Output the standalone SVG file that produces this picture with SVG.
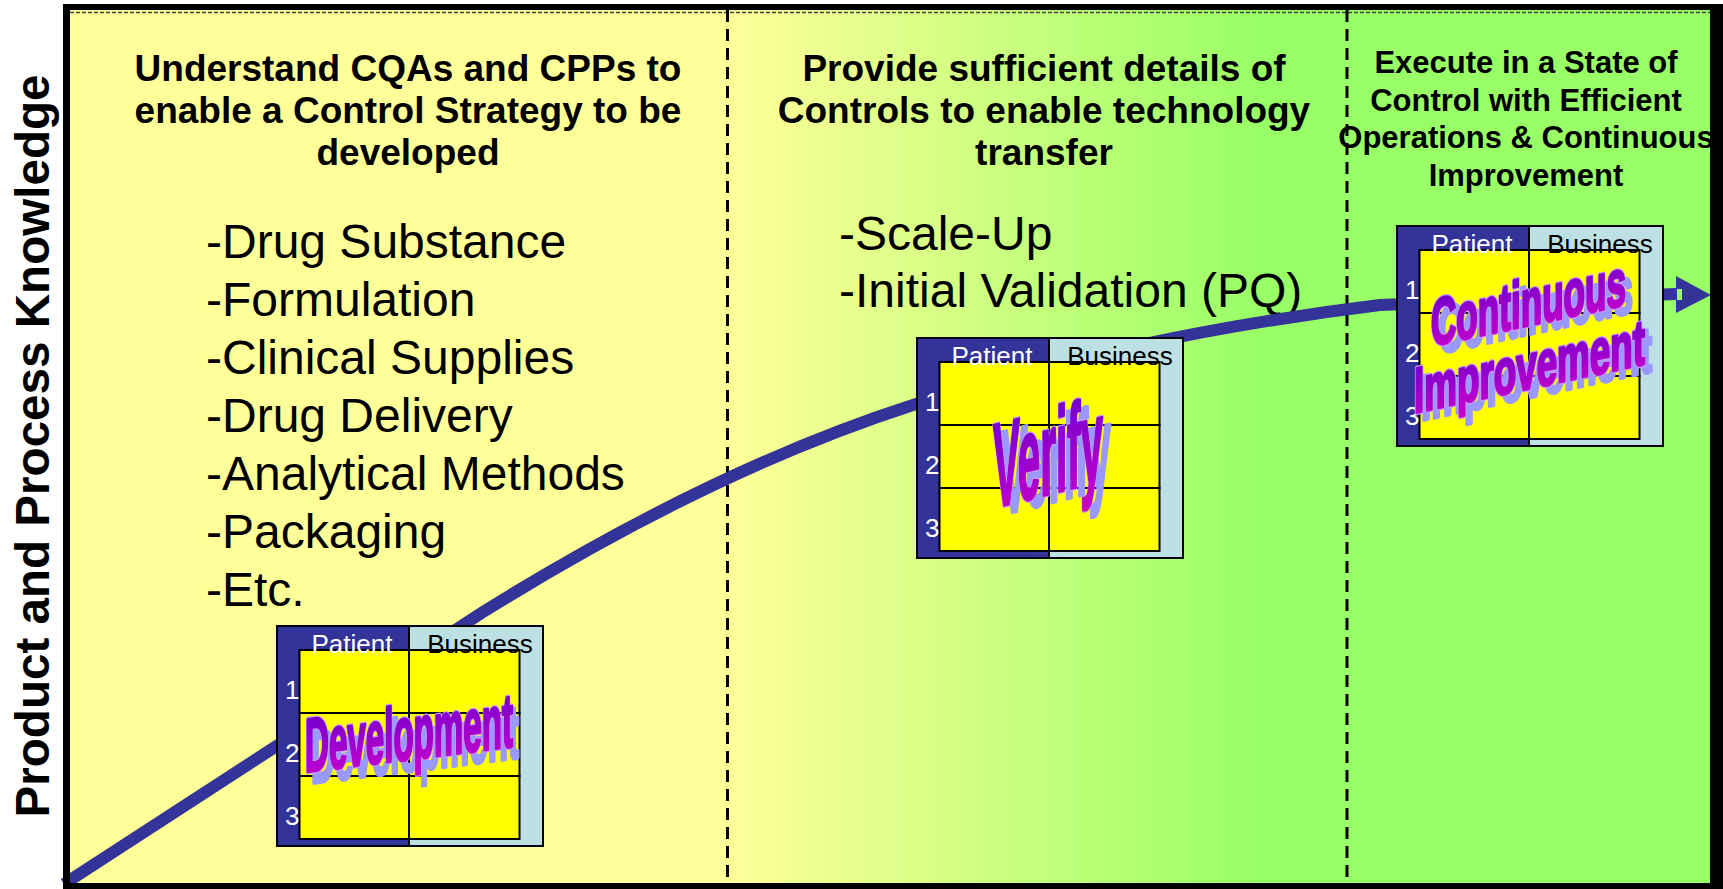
<svg xmlns="http://www.w3.org/2000/svg" width="1723" height="889" viewBox="0 0 1723 889">
<style>
.title{font-family:"Liberation Sans",Arial,sans-serif;font-weight:bold;font-size:37px;text-anchor:middle;fill:#000}
.t3{font-size:31px}
.list{font-family:"Liberation Sans",Arial,sans-serif;font-size:48px;fill:#000}
.axis{font-family:"Liberation Sans",Arial,sans-serif;font-weight:bold;font-size:48px;text-anchor:middle;fill:#000}
.mxd{fill:#333399;stroke:#000;stroke-width:2}
.mxl{fill:#BCE0E4;stroke:#000;stroke-width:2}
.mxc{fill:#FFFF00;stroke:#000;stroke-width:2}
.mxw{font-family:"Liberation Sans",Arial,sans-serif;font-size:26px;fill:#fff}
.mxb{font-family:"Liberation Sans",Arial,sans-serif;font-size:26px;fill:#000}
.mid{text-anchor:middle}
.wa{font-family:"Liberation Sans",Arial,sans-serif;font-weight:bold;fill:url(#waGrad);stroke:url(#waGrad);stroke-width:3;stroke-linejoin:round}
.wao{font-family:"Liberation Sans",Arial,sans-serif;font-weight:bold;fill:none;stroke:#CC99FF;stroke-width:5.5;stroke-linejoin:round}
.wash{font-family:"Liberation Sans",Arial,sans-serif;font-weight:bold;fill:#9999FF;stroke:#9999FF;stroke-width:4;stroke-linejoin:round}
.divider{stroke:#000;stroke-width:3;stroke-dasharray:12 7;fill:none}
.curve{stroke:#333399;stroke-width:12;fill:none}
</style>
<defs>
<linearGradient id="bgGrad" gradientUnits="userSpaceOnUse" x1="727" y1="0" x2="1347" y2="0">
<stop offset="0" stop-color="#FFFF99"/>
<stop offset="0.86" stop-color="#99FF66"/>
<stop offset="1" stop-color="#99FF66"/>
</linearGradient>
<linearGradient id="waGrad" x1="0" y1="0" x2="0" y2="1">
<stop offset="0" stop-color="#6600CC"/>
<stop offset="1" stop-color="#CC00CC"/>
</linearGradient>
</defs>

<g id="background">
<rect x="70" y="10" width="658" height="873" fill="#FFFF99"/>
<rect x="727.5" y="10" width="620" height="873" fill="url(#bgGrad)"/>
<rect x="1347" y="10" width="363" height="873" fill="#99FF66"/>
<line x1="70" y1="12.5" x2="1710" y2="12.5" stroke="#444" stroke-width="1.5" stroke-dasharray="4 2"/>
<line class="divider" x1="727.5" y1="10" x2="727.5" y2="883"/>
<line class="divider" x1="1347" y1="10" x2="1347" y2="883"/>
</g>

<g id="title-1">
<text class="title" x="408" y="80.5">Understand CQAs and CPPs to</text>
<text class="title" x="408" y="122.5">enable a Control Strategy to be</text>
<text class="title" x="408" y="164.5">developed</text>
</g>
<g id="list-1">
<text class="list" x="206" y="258">-Drug Substance</text>
<text class="list" x="206" y="316">-Formulation</text>
<text class="list" x="206" y="374">-Clinical Supplies</text>
<text class="list" x="206" y="432">-Drug Delivery</text>
<text class="list" x="206" y="490">-Analytical Methods</text>
<text class="list" x="206" y="548">-Packaging</text>
<text class="list" x="206" y="606">-Etc.</text>
</g>

<g id="title-2">
<text class="title" x="1044" y="80.5">Provide sufficient details of</text>
<text class="title" x="1044" y="122.5">Controls to enable technology</text>
<text class="title" x="1044" y="164.5">transfer</text>
</g>
<g id="list-2">
<text class="list" x="839" y="250">-Scale-Up</text>
<text class="list" x="839" y="307">-Initial Validation (PQ)</text>
</g>

<g id="title-3">
<text class="title t3" x="1526" y="73">Execute in a State of</text>
<text class="title t3" x="1526" y="110.5">Control with Efficient</text>
<text class="title t3" x="1526" y="148">Operations &amp; Continuous</text>
<text class="title t3" x="1526" y="185.5">Improvement</text>
</g>

<g id="connectors">
<path class="curve" d="M 64,884 L 483,612 C 626,523 770,451 913,405 C 1069,355 1224,324 1380,305 L 1676,294"/>
<polygon points="1676,276 1711,295 1676,313" fill="#333399"/>
<rect x="1677" y="289" width="5" height="11" fill="#99FF66"/>
</g>

<g id="node-development">
<rect class="mxd" x="277" y="626" width="132" height="220"/>
<rect class="mxl" x="409" y="626" width="134" height="220"/>
<rect class="mxc" x="299.5" y="650" width="109.5" height="63"/>
<rect class="mxc" x="409" y="650" width="110.5" height="63"/>
<rect class="mxc" x="299.5" y="713" width="109.5" height="63"/>
<rect class="mxc" x="409" y="713" width="110.5" height="63"/>
<rect class="mxc" x="299.5" y="776" width="109.5" height="63"/>
<rect class="mxc" x="409" y="776" width="110.5" height="63"/>
<text class="mxw mid" x="352" y="653">Patient</text>
<text class="mxb mid" x="480" y="653">Business</text>
<text class="mxw" x="285" y="699">1</text>
<text class="mxw" x="285" y="762">2</text>
<text class="mxw" x="285" y="825">3</text>
<g transform="translate(305,772) skewY(-7)">
<text class="wash" x="6" y="12" font-size="76" textLength="208" lengthAdjust="spacingAndGlyphs">Development</text>
<text class="wao" x="0" y="0" font-size="76" textLength="208" lengthAdjust="spacingAndGlyphs">Development</text>
<text class="wa" x="0" y="0" font-size="76" textLength="208" lengthAdjust="spacingAndGlyphs">Development</text>
</g>
</g>

<g id="node-verify">
<rect class="mxd" x="917" y="338" width="132" height="220"/>
<rect class="mxl" x="1049" y="338" width="134" height="220"/>
<rect class="mxc" x="939.5" y="362" width="109.5" height="63"/>
<rect class="mxc" x="1049" y="362" width="110.5" height="63"/>
<rect class="mxc" x="939.5" y="425" width="109.5" height="63"/>
<rect class="mxc" x="1049" y="425" width="110.5" height="63"/>
<rect class="mxc" x="939.5" y="488" width="109.5" height="63"/>
<rect class="mxc" x="1049" y="488" width="110.5" height="63"/>
<text class="mxw mid" x="992" y="365">Patient</text>
<text class="mxb mid" x="1120" y="365">Business</text>
<text class="mxw" x="925" y="411">1</text>
<text class="mxw" x="925" y="474">2</text>
<text class="mxw" x="925" y="537">3</text>
<g transform="translate(993,508) skewY(-14)">
<text class="wash" x="8" y="9" font-size="120" textLength="110" lengthAdjust="spacingAndGlyphs">Verify</text>
<text class="wao" x="0" y="0" font-size="120" textLength="110" lengthAdjust="spacingAndGlyphs">Verify</text>
<text class="wa" x="0" y="0" font-size="120" textLength="110" lengthAdjust="spacingAndGlyphs">Verify</text>
</g>
</g>

<g id="node-continuous-improvement">
<rect class="mxd" x="1397" y="226" width="132" height="220"/>
<rect class="mxl" x="1529" y="226" width="134" height="220"/>
<rect class="mxc" x="1419.5" y="250" width="109.5" height="63"/>
<rect class="mxc" x="1529" y="250" width="110.5" height="63"/>
<rect class="mxc" x="1419.5" y="313" width="109.5" height="63"/>
<rect class="mxc" x="1529" y="313" width="110.5" height="63"/>
<rect class="mxc" x="1419.5" y="376" width="109.5" height="63"/>
<rect class="mxc" x="1529" y="376" width="110.5" height="63"/>
<text class="mxw mid" x="1472" y="253">Patient</text>
<text class="mxb mid" x="1600" y="253">Business</text>
<text class="mxw" x="1405" y="299">1</text>
<text class="mxw" x="1405" y="362">2</text>
<text class="mxw" x="1405" y="425">3</text>
<g transform="translate(1431,346) skewY(-12)">
<text class="wash" x="7" y="9" font-size="66" textLength="195" lengthAdjust="spacingAndGlyphs">Continuous</text>
<text class="wao" x="0" y="0" font-size="66" textLength="195" lengthAdjust="spacingAndGlyphs">Continuous</text>
<text class="wa" x="0" y="0" font-size="66" textLength="195" lengthAdjust="spacingAndGlyphs">Continuous</text>
</g>
<g transform="translate(1414,413) skewY(-12)">
<text class="wash" x="7" y="9" font-size="64" textLength="231" lengthAdjust="spacingAndGlyphs">Improvement</text>
<text class="wao" x="0" y="0" font-size="64" textLength="231" lengthAdjust="spacingAndGlyphs">Improvement</text>
<text class="wa" x="0" y="0" font-size="64" textLength="231" lengthAdjust="spacingAndGlyphs">Improvement</text>
</g>
</g>

<g id="frame">
<path d="M63,4 H1723 V889 H63 Z M70,10 V883 H1710 V10 Z" fill="#000" fill-rule="evenodd"/>
</g>

<g id="axis-label">
<text class="axis" transform="translate(49,446) rotate(-90)" textLength="743" lengthAdjust="spacingAndGlyphs">Product and Process Knowledge</text>
</g>
</svg>
